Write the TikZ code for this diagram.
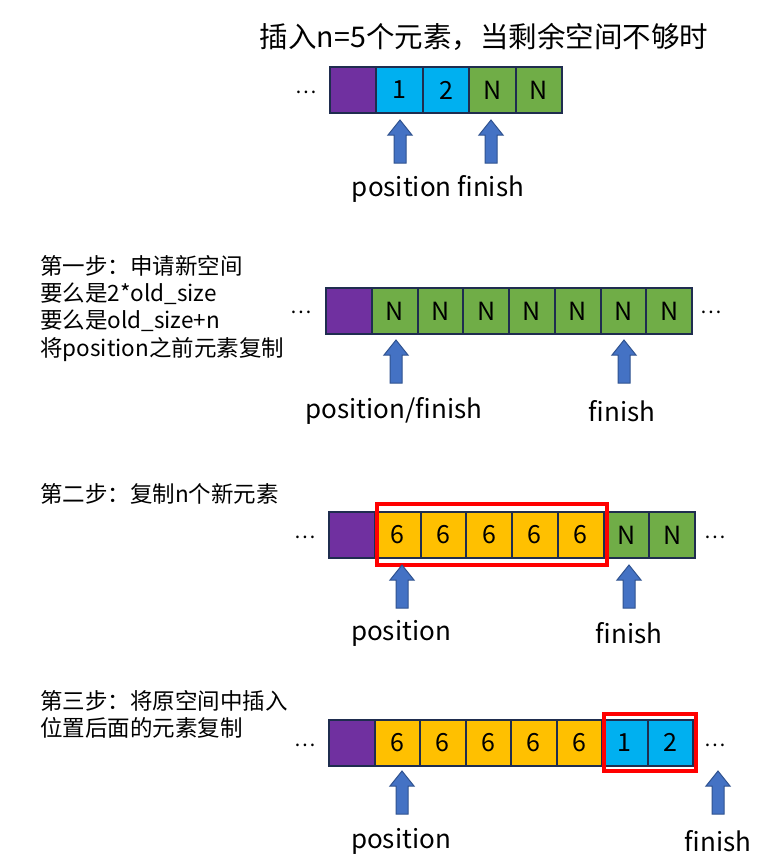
\documentclass[tikz,border=0pt]{standalone}
\usepackage{fontspec}
\setmainfont{Noto Sans CJK SC}
\begin{document}
\begin{tikzpicture}[x=1pt,y=-1pt,
  cell/.style={draw=cellborder,line width=2pt,minimum width=#1,minimum height=46pt,inner sep=0pt,outer sep=0pt,font=\fontsize{25}{28}\selectfont,anchor=center},
  cell/.default=46pt,
  lbl/.style={font=\fontsize{26}{30}\selectfont,inner sep=0pt},
  ttl/.style={font=\fontsize{28.5}{32}\selectfont,inner sep=0pt},
  side/.style={font=\fontsize{22.5}{27.3}\selectfont,inner sep=0pt,anchor=north west,align=left},
  dots/.style={font=\fontsize{20}{24}\selectfont,inner sep=0pt},
  hl/.style={draw=red,line width=3.5pt},
  uparr/.pic={\fill[fill=arrowblue,draw=arrowedge,line width=1pt] (0,0)--(-12,15)--(-6,15)--(-6,43)--(6,43)--(6,15)--(12,15)--cycle;}]
\definecolor{cellborder}{HTML}{1F2D4F}
\definecolor{cpurple}{HTML}{7030A0}
\definecolor{cblue}{HTML}{00B0F0}
\definecolor{cgreen}{HTML}{70AD47}
\definecolor{cyellow}{HTML}{FFC000}
\definecolor{arrowblue}{HTML}{4472C4}
\definecolor{arrowedge}{HTML}{2F528F}
\useasboundingbox[fill=white] (0,0) rectangle (774,855);

% ---------- Row 1 ----------
\node[ttl] (title) at (484,37) {插入n=5个元素，当剩余空间不够时};
\node[dots] (d1l) at (306,92) {…};
\foreach \i/\c/\t in {0/cpurple/,1/cblue/1,2/cblue/2,3/cgreen/N,4/cgreen/N}
  \node[cell=46.4pt,fill=\c] (r1c\i) at ({330+46.4*\i+23.2},90) {\t};
\pic at (400,120) {uparr};
\pic at (491,120) {uparr};
\node[lbl] (l1) at (438,189) {position finish};

% ---------- Row 2 ----------
\node[side] (s2) at (40,255) {第一步：申请新空间\\要么是2*old\_size\\要么是old\_size+n\\将position之前元素复制};
\node[dots] (d2l) at (301,312) {…};
\node[dots] (d2r) at (711,312) {…};
\node[cell=45.75pt,fill=cpurple] (r2c0) at ({326+22.875},311) {};
\foreach \i in {1,...,7}
  \node[cell=45.75pt,fill=cgreen] (r2c\i) at ({326+45.75*\i+22.875},311) {N};
\pic at (396,340) {uparr};
\pic at (624,340) {uparr};
\node[lbl] (l2a) at (394,411) {position/finish};
\node[lbl] (l2b) at (622,411) {finish};

% ---------- Row 3 ----------
\node[side] (s3) at (40,483) {第二步：复制n个新元素};
\node[dots] (d3l) at (305,537) {…};
\node[dots] (d3r) at (715,537) {…};
\foreach \i/\c/\t in {0/cpurple/,1/cyellow/6,2/cyellow/6,3/cyellow/6,4/cyellow/6,5/cyellow/6,6/cgreen/N,7/cgreen/N}
  \node[cell=45.75pt,fill=\c] (r3c\i) at ({329+45.75*\i+22.875},535) {\t};
\draw[hl] (377,504) rectangle (607,565);
\pic at (402,565) {uparr};
\pic at (629,565) {uparr};
\node[lbl] (l3a) at (401,633) {position};
\node[lbl] (l3b) at (629,633) {finish};

% ---------- Row 4 ----------
\node[side] (s4) at (40,690) {第三步：将原空间中插入\\位置后面的元素复制};
\node[dots] (d4l) at (305,745) {…};
\node[dots] (d4r) at (715,745) {…};
\foreach \i/\c/\t in {0/cpurple/,1/cyellow/6,2/cyellow/6,3/cyellow/6,4/cyellow/6,5/cyellow/6,6/cblue/1,7/cblue/2}
  \node[cell=45.5pt,fill=\c] (r4c\i) at ({329+45.5*\i+22.75},742.5) {\t};
\draw[hl] (604,714) rectangle (696,771);
\pic at (402,771) {uparr};
\pic at (718,771) {uparr};
\node[lbl] (l4a) at (401,841) {position};
\node[lbl] (l4b) at (718,841) {finish};
\end{tikzpicture}
\end{document}
